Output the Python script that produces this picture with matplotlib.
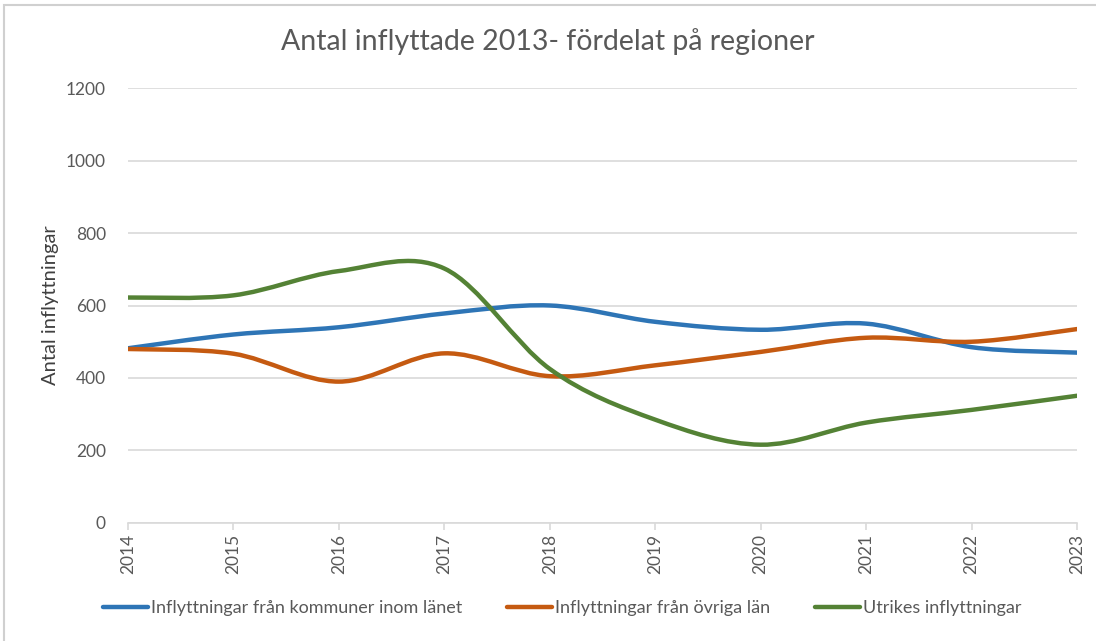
import numpy as np
import matplotlib
matplotlib.use("Agg")
import matplotlib.pyplot as plt
from matplotlib.path import Path
from matplotlib.patches import PathPatch, Rectangle
from matplotlib.lines import Line2D

plt.rcParams['font.family'] = ['Lato', 'DejaVu Sans']

years = [2014, 2015, 2016, 2017, 2018, 2019, 2020, 2021, 2022, 2023]
inom_lanet = [482, 520, 540, 578, 600, 555, 533, 550, 485, 470]
ovriga_lan = [480, 467, 390, 468, 405, 435, 472, 511, 500, 535]
utrikes = [622, 628, 695, 702, 425, 285, 216, 277, 312, 351]

labels = ["Inflyttningar från kommuner inom länet",
          "Inflyttningar från övriga län",
          "Utrikes inflyttningar"]
colors = ["#2E75B6", "#C55A11", "#548235"]


def smooth_path(x, y):
    # bezier path like Excel's "smoothed line"
    pts = np.column_stack((x, y)).astype(float)
    n = len(pts)
    verts = [pts[0]]
    codes = [Path.MOVETO]
    for i in range(n - 1):
        p0 = pts[i - 1] if i > 0 else pts[i]
        p1 = pts[i]
        p2 = pts[i + 1]
        p3 = pts[i + 2] if i + 2 < n else pts[i + 1]
        c1 = p1 + (p2 - p0) / 6.0
        c2 = p2 - (p3 - p1) / 6.0
        verts += [c1, c2, p2]
        codes += [Path.CURVE4] * 3
    return Path(verts, codes)


fig = plt.figure(figsize=(10.96, 6.41), dpi=100)
fig.patches.append(Rectangle((0.004, -0.1), 1.2, 1.092, transform=fig.transFigure,
                             fill=False, edgecolor="#D0D0D0", linewidth=1.5))
ax = fig.add_axes([0.1168, 0.1841, 0.8659, 0.6786])

for vals, c in zip([inom_lanet, ovriga_lan, utrikes], colors):
    ax.add_patch(PathPatch(smooth_path(years, vals), facecolor="none",
                           edgecolor=c, linewidth=3.2, capstyle="round", zorder=3))

ax.set_xlim(years[0], years[-1])
ax.set_ylim(0, 1200)
ax.set_yticks(range(0, 1201, 200))
ax.set_xticks(years)
ax.set_xticklabels([str(y) for y in years], rotation=90)
ax.grid(axis="y", color="#D9D9D9", linewidth=1.2)
ax.set_axisbelow(True)
for s in ["top", "right", "left"]:
    ax.spines[s].set_visible(False)
ax.spines["bottom"].set_color("#D9D9D9")
ax.spines["bottom"].set_linewidth(1.2)
ax.tick_params(axis="y", length=0, pad=16, labelsize=12.5, labelcolor="#595959")
ax.tick_params(axis="x", length=5, color="#D9D9D9", width=1.2, pad=3,
               labelsize=12.5, labelcolor="#595959")
ax.set_ylabel("Antal inflyttningar", fontsize=14.5, color="#404040", labelpad=5)

fig.suptitle("Antal inflyttade 2013- fördelat på regioner", fontsize=20.5,
             color="#595959", y=0.957)

handles = [Line2D([0], [0], color=c, linewidth=3.2, solid_capstyle="round") for c in colors]
fig.legend(handles, labels, loc="center", bbox_to_anchor=(0.513, 0.051), ncol=3,
           frameon=False, fontsize=13, handlelength=2.5, handletextpad=0.15,
           columnspacing=2.5, labelcolor="#595959")

fig.savefig("out.png", dpi=100)
